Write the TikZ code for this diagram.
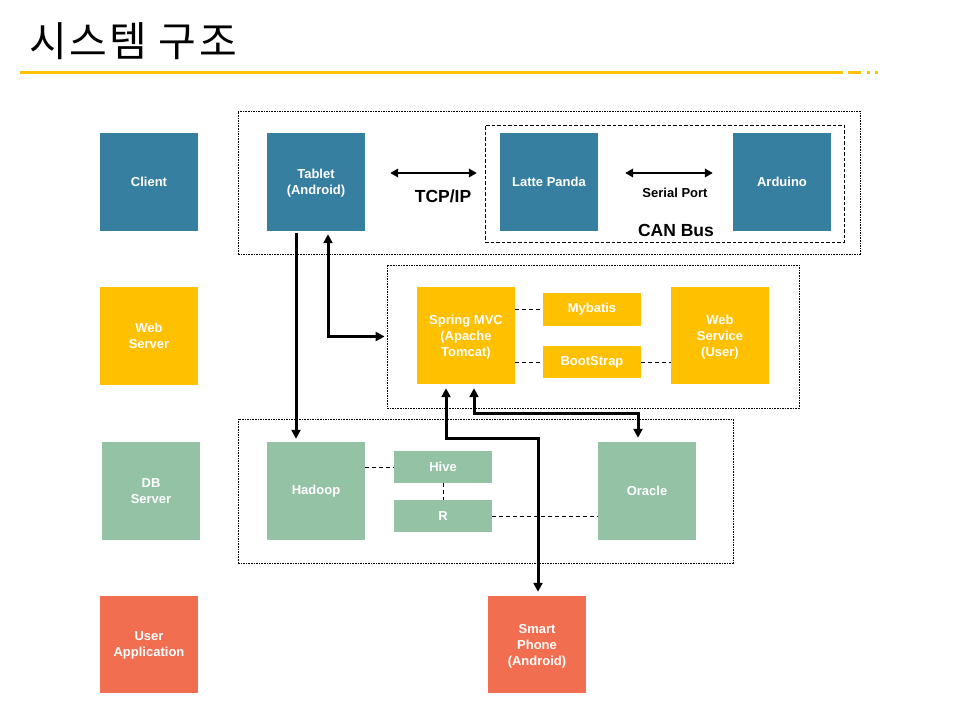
\documentclass[tikz,border=0pt]{standalone}
\usepackage{fontspec}
\setmainfont{Liberation Sans}
\newfontfamily\krfont[LetterSpace=6]{Noto Sans CJK KR}
\usetikzlibrary{arrows.meta}
\definecolor{cblue}{HTML}{367FA0}
\definecolor{cyel}{HTML}{FFC000}
\definecolor{cgreen}{HTML}{93C2A5}
\definecolor{corange}{HTML}{F26E50}
\tikzset{
  box/.style={fill=#1, text=white, font=\fontsize{13}{16}\selectfont\bfseries, align=center, inner sep=0pt, minimum width=98pt, minimum height=98pt},
  mbox/.style={box=#1, text depth=-5pt},
  sbox/.style={box=#1, minimum height=32pt},
  grp/.style={draw=black, line width=0.8pt, dash pattern=on 1.6pt off 1pt},
  canbox/.style={draw=black, line width=0.9pt, dash pattern=on 3.5pt off 2pt},
  lnk/.style={draw=black, line width=0.8pt, dash pattern=on 4pt off 3pt},
  arr/.style={line width=3pt, -{Triangle[length=9pt,width=9pt]}},
  darr/.style={line width=3pt, {Triangle[length=9pt,width=9pt]}-{Triangle[length=9pt,width=9pt]}},
  harr/.style={line width=2.6pt, {Triangle[length=8pt,width=8.5pt]}-{Triangle[length=8pt,width=8.5pt]}},
  lbl/.style={font=\fontsize{17.5}{20}\selectfont\bfseries, inner sep=0pt}
}
\begin{document}
\begin{tikzpicture}[x=1pt,y=-1pt]
\useasboundingbox (0,0) rectangle (960,720);
% title
\node[anchor=base west, inner sep=0pt, font=\krfont\fontsize{41}{46}\selectfont] (title) at (29,56) {시스템 구조};
\draw[cyel, line width=3pt] (20,72) coordinate (t1) -- (843,72) coordinate (t2);
\draw[cyel, line width=3pt] (848,72) -- (861,72);
\draw[cyel, line width=3pt] (867,72) -- (870,72);
\draw[cyel, line width=3pt] (875,72) -- (878,72);
% group boxes
\node[grp, minimum width=622pt, minimum height=143pt, inner sep=0pt] (clientgrp) at (549,182.5) {};
\node[canbox, minimum width=359pt, minimum height=117pt, inner sep=0pt] (canbus) at (664.5,183.5) {};
\node[grp, minimum width=412pt, minimum height=143pt, inner sep=0pt] (webgrp) at (593,336.5) {};
\node[grp, minimum width=495pt, minimum height=144pt, inner sep=0pt] (dbgrp) at (485.5,491) {};
% left column
\node[box=cblue] (client) at (149,182) {Client};
\node[mbox=cyel] (websrv) at (149,336) {Web\\Server};
\node[mbox=cgreen] (dbsrv) at (151,491) {DB\\Server};
\node[mbox=corange, minimum height=97pt] (userapp) at (149,644.5) {User\\Application};
% client row
\node[mbox=cblue] (tablet) at (316,182) {Tablet\\(Android)};
\node[box=cblue] (latte) at (549,182) {Latte Panda};
\node[box=cblue] (arduino) at (782,182) {Arduino};
\draw[harr] ([shift={(25,-9)}]tablet.east) -- ([shift={(-23,-9)}]latte.west);
\draw[harr] ([shift={(27,-9)}]latte.east) -- ([shift={(-20,-9)}]arduino.west);
\node[lbl] (tcp) at (443,196) {TCP/IP};
\node[inner sep=0pt, font=\fontsize{13}{16}\selectfont\bfseries] (serial) at (675,193) {Serial Port};
\node[lbl] (can) at (676,230) {CAN Bus};
% web row
\node[mbox=cyel, minimum height=97pt] (spring) at (466,335.5) {Spring MVC\\(Apache\\Tomcat)};
\node[sbox=cyel, minimum height=33pt] (mybatis) at (592,309.5) {Mybatis};
\node[sbox=cyel] (boot) at (592,362) {BootStrap};
\node[mbox=cyel, minimum height=97pt] (websvc) at (720,335.5) {Web\\Service\\(User)};
\draw[lnk] (spring.east |- mybatis.west) -- (mybatis.west);
\draw[lnk] (spring.east |- boot.west) -- (boot.west);
\draw[lnk] (boot.east) -- (websvc.west |- boot.east);
% db row
\node[box=cgreen] (hadoop) at (316,491) {Hadoop};
\node[sbox=cgreen] (hive) at (443,467) {Hive};
\node[sbox=cgreen] (r) at (443,516) {R};
\node[box=cgreen] (oracle) at (647,491) {Oracle};
\draw[lnk] (hadoop.east |- hive.west) -- (hive.west);
\draw[lnk] (hive.south) -- (r.north);
\draw[lnk] (r.east) -- (oracle.west |- r.east);
% user app row
\node[mbox=corange, minimum height=97pt] (smart) at (537,644.5) {Smart\\Phone\\(Android)};
% thick arrows
\coordinate (k1) at (538,438);
\coordinate (k2) at (638,413);
\draw[arr, shorten <=1.5pt, shorten >=3pt] ([xshift=-20pt]tablet.south) -- ([xshift=-20pt]hadoop.north);
\draw[darr, shorten <=3pt, shorten >=2pt] ([xshift=12pt]tablet.south) |- (webgrp.west);
\draw[darr, shorten <=4pt, shorten >=4pt] ([xshift=-20pt]spring.south) |- (k1) -- ([xshift=1pt]smart.north);
\draw[darr, shorten <=4pt, shorten >=4pt] ([xshift=8pt]spring.south) |- (k2) -- ([xshift=-9pt]oracle.north);
\end{tikzpicture}
\end{document}
